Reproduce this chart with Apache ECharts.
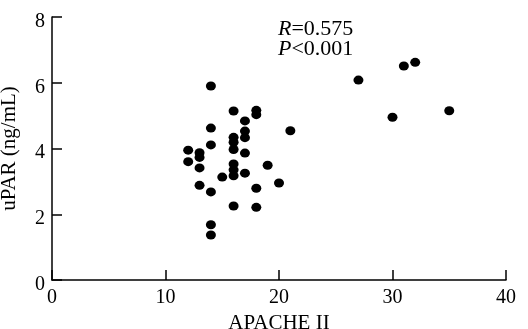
<!DOCTYPE html>
<html>
<head>
<meta charset="utf-8">
<script src="https://cdn.jsdelivr.net/npm/echarts@6/dist/echarts.min.js"></script>
<style>
  html, body { margin: 0; padding: 0; background: #fff; }
  #chart { width: 528px; height: 329px; }
</style>
</head>
<body>
<div id="chart"></div>
<script>
// APACHE II score vs uPAR (ng/mL)
const apache = [12, 12, 13, 13, 13, 13, 14, 14, 14, 14, 14, 14, 15, 16, 16, 16, 16, 16, 16, 16, 16,
  17, 17, 17, 17, 17, 18, 18, 18, 18, 19, 20, 21, 27, 30, 31, 32, 35]
const upar = [3.95, 3.6, 3.87, 3.73, 3.41, 2.88, 5.9, 4.62, 4.11, 2.68, 1.68, 1.37, 3.13, 5.14, 4.34, 4.19, 3.97, 3.53, 3.35, 3.17, 2.25,
  4.84, 4.53, 4.33, 3.86, 3.25, 5.16, 5.03, 2.79, 2.21, 3.49, 2.95, 4.54, 6.08, 4.95, 6.51, 6.62, 5.15]

const xTicks = [0, 10, 20, 30, 40]
const yTicks = [0, 2, 4, 6, 8]

const font = '"Liberation Serif", "DejaVu Serif", serif'

const chart = echarts.init(document.getElementById('chart'))

const option = {
  animation: false,
  title: {
    text: '{i|R}{n|=0.575}\n{i|P}{n|<0.001}',
    left: 273,
    top: 14,
    textStyle: {
      rich: {
        i: { fontFamily: font, fontStyle: 'italic', fontWeight: 'normal', fontSize: 22, color: '#000', lineHeight: 20 },
        n: { fontFamily: font, fontWeight: 'normal', fontSize: 22, color: '#000', lineHeight: 20 }
      }
    }
  },
  grid: {
    left: 52,
    right: 22,
    top: 17,
    bottom: 49,
    outerBoundsMode: 'none'
  },
  xAxis: {
    type: 'value',
    min: xTicks[0],
    max: xTicks[xTicks.length - 1],
    interval: 10,
    name: 'APACHE II',
    nameLocation: 'middle',
    nameGap: 33,
    nameTextStyle: { fontFamily: font, fontSize: 21, color: '#000' },
    axisLine: { lineStyle: { color: '#000', width: 1.5 } },
    axisTick: { inside: true, length: 10, lineStyle: { color: '#000', width: 1.5 } },
    axisLabel: { fontFamily: font, fontSize: 20, color: '#000', margin: 8 },
    splitLine: { show: false }
  },
  yAxis: {
    type: 'value',
    min: yTicks[0],
    max: yTicks[yTicks.length - 1],
    interval: 2,
    name: 'uPAR (ng/mL)',
    nameLocation: 'middle',
    nameGap: 32,
    nameTextStyle: { fontFamily: font, fontSize: 21, color: '#000' },
    axisLine: { show: true, lineStyle: { color: '#000', width: 1.5 } },
    axisTick: { show: true, inside: true, length: 10, lineStyle: { color: '#000', width: 1.5 } },
    axisLabel: {
      color: '#000',
      margin: 7,
      formatter: '{a|{value}}',
      rich: {
        a: { fontFamily: font, fontSize: 20, color: '#000', padding: [9, 0, 0, 0] }
      }
    },
    splitLine: { show: false }
  },
  series: [
    {
      type: 'scatter',
      symbol: 'circle',
      symbolSize: [10, 9],
      itemStyle: { color: '#000', opacity: 1 },
      data: apache.map((x, i) => [x, upar[i]])
    }
  ]
}

chart.setOption(option)
</script>
</body>
</html>
